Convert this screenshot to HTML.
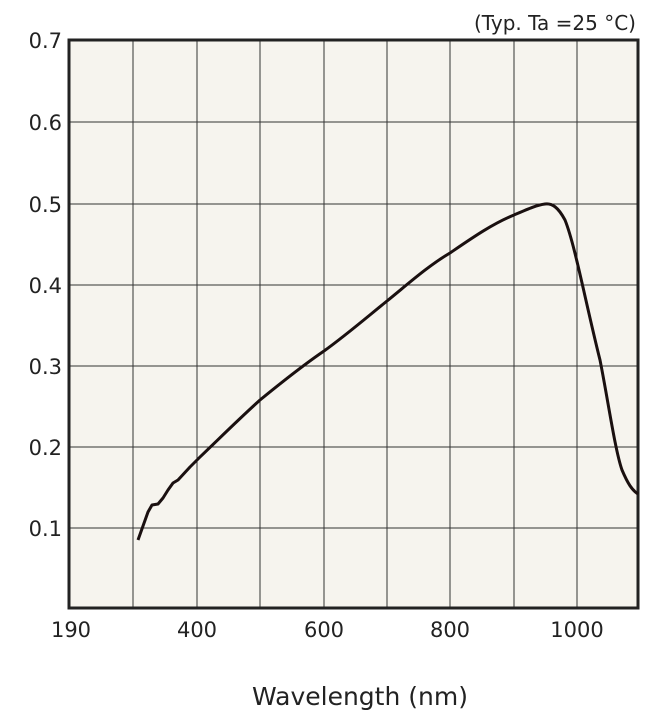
<!DOCTYPE html>
<html><head><style>
body{margin:0;background:#fff;}
svg text{font-family:"DejaVu Sans","Liberation Sans",sans-serif;fill:#222;}
</style></head><body>
<svg width="651" height="717" viewBox="0 0 651 717" xmlns="http://www.w3.org/2000/svg">
<rect x="69" y="40" width="569" height="568" fill="#f6f4ee"/>
<g stroke="#333" stroke-width="1">
<line x1="133" y1="40" x2="133" y2="608"/><line x1="197" y1="40" x2="197" y2="608"/>
<line x1="260" y1="40" x2="260" y2="608"/><line x1="324" y1="40" x2="324" y2="608"/>
<line x1="387" y1="40" x2="387" y2="608"/><line x1="450" y1="40" x2="450" y2="608"/>
<line x1="514" y1="40" x2="514" y2="608"/><line x1="577" y1="40" x2="577" y2="608"/>
<line x1="69" y1="122" x2="638" y2="122"/><line x1="69" y1="204" x2="638" y2="204"/>
<line x1="69" y1="285" x2="638" y2="285"/><line x1="69" y1="366" x2="638" y2="366"/>
<line x1="69" y1="447" x2="638" y2="447"/><line x1="69" y1="528" x2="638" y2="528"/>
</g>
<rect x="69" y="40" width="569" height="568" fill="none" stroke="#222" stroke-width="3"/>
<path d="M138,540 L143,526 L148,512 L152,505 L158,504 L163,498 L168,490 L173,483 L178,480 L190,467 L200,457 C225,433 240,418 260,400 C282,382 302,366 324,351 C345,336 366,318 387,301 C408,284 428,266 450,253 C472,238 492,224 514,215 C528,209 537,205 545,204 C552,203 558,207 565,220 C575,245 585,300 600,360 C608,400 615,450 622,470 C628,484 632,490 638,494" fill="none" stroke="#1a1010" stroke-width="3" stroke-linejoin="round"/>
<g font-size="21" text-anchor="end">
<text x="62" y="48">0.7</text><text x="62" y="130">0.6</text><text x="62" y="212">0.5</text>
<text x="62" y="293">0.4</text><text x="62" y="374">0.3</text><text x="62" y="455">0.2</text><text x="62" y="536">0.1</text>
</g>
<g font-size="21" text-anchor="middle">
<text x="71" y="637">190</text><text x="197" y="637">400</text><text x="324" y="637">600</text>
<text x="450" y="637">800</text><text x="577" y="637">1000</text>
</g>
<text x="360" y="705" font-size="25" text-anchor="middle">Wavelength (nm)</text>
<text x="636" y="30" font-size="20" text-anchor="end">(Typ. Ta =25 °C)</text>
</svg>
</body></html>
